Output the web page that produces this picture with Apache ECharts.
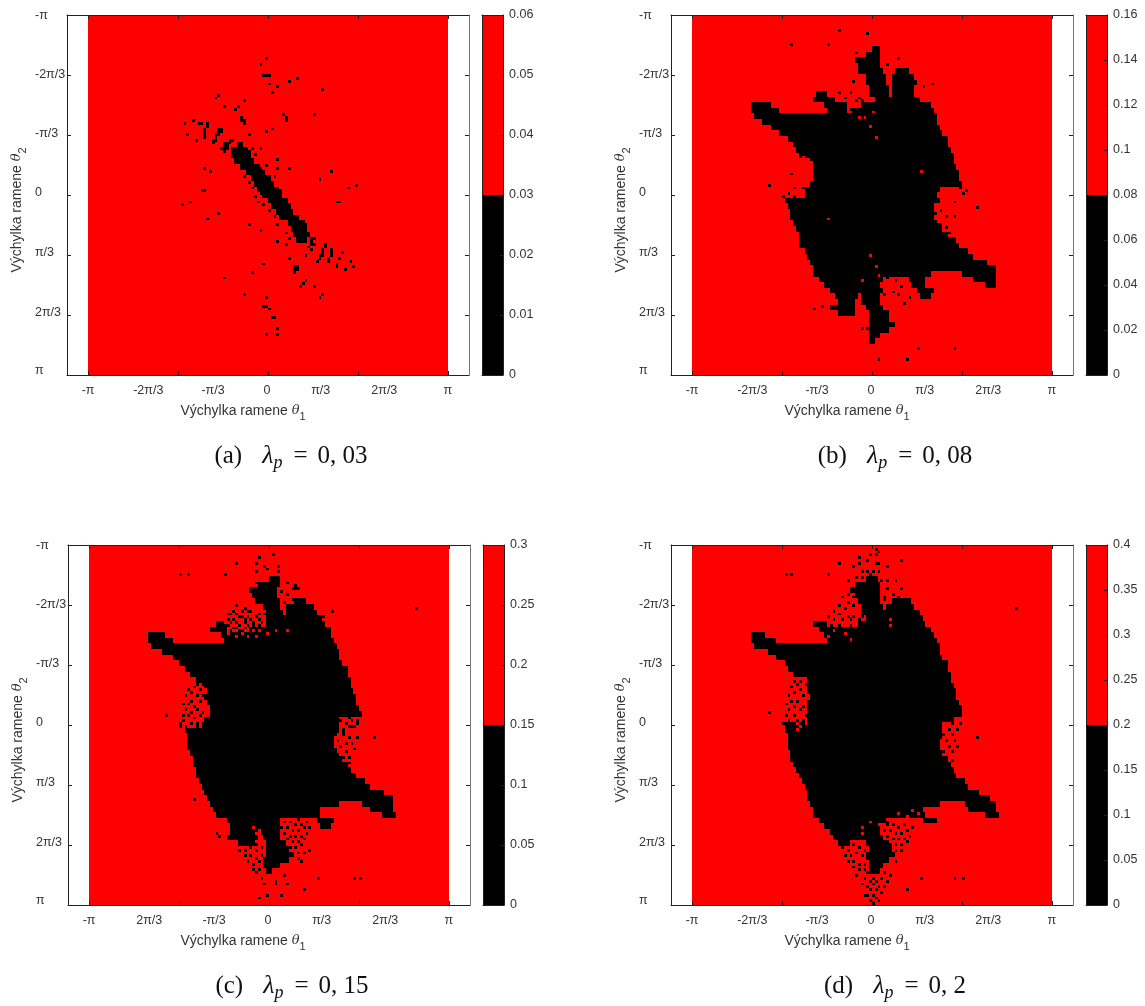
<!DOCTYPE html>
<html><head><meta charset="utf-8">
<style>html,body{margin:0;padding:0;background:#fff}#c{width:1145px;height:1006px}</style>
<script src="https://cdn.jsdelivr.net/npm/echarts@6/dist/echarts.min.js"></script>
</head><body><div id="c"></div>
<script>
// Row data: [row, from, to, from, to ...] in bins of the 128x128 scan; each entry covers two bin rows centred on row.
const blackRowsA=[[46,53,54],[48,51,56],[50,51,57],[52,52,58],[54,54,60],[56,56,62],[58,58,64],[60,59,65],[62,60,67],[64,62,68],[66,64,70],[68,65,71],[70,67,72],[72,68,74],[74,71,76],[76,72,77],[78,73,78],[80,74,77]];
const blackRowsB=[[12,64,66],[14,62,66],[16,58,66],[18,59,66],[20,59,67,72,76],[22,62,68,71,78],[24,62,68,71,79],[26,63,69,71,78],[28,44,47,63,69,71,78],[30,43,50,65,69,70,80],[32,21,27,47,54,60,84],[34,21,30,48,54,57,85],[36,22,86],[38,25,86],[40,28,87],[42,31,88],[44,34,90],[46,36,90],[48,37,91],[50,38,92],[52,42,92],[54,43,93],[56,43,94],[58,43,94],[60,42,95],[62,40,87],[64,40,86],[66,33,87],[68,34,85],[70,35,85],[72,35,85],[74,36,86],[76,37,88],[78,38,90],[80,38,93],[82,38,94],[84,40,97],[86,41,99],[88,42,104],[90,43,107],[92,43,84,96,107],[94,45,67,77,82,100,107],[96,47,66,78,82,104,107],[98,49,58,59,67,80,85],[100,51,58,60,66,81,84],[102,52,57,60,66],[104,49,57,62,67],[106,52,57,63,69],[108,63,69],[110,63,71],[112,63,69],[114,63,66],[116,63,64]];
const blackRowsC=[[12,64,67],[14,60,67],[16,57,66],[18,58,66],[20,59,67,73,76],[22,62,67,70,79],[24,63,68,70,80],[26,63,69,70,82],[28,45,47,63,69,70,83],[30,43,48,59,85],[32,21,26,47,85],[34,21,29,48,86],[36,22,87],[38,26,88],[40,30,88],[42,32,89],[44,34,91],[46,36,91],[48,38,92],[50,41,92],[52,42,93],[54,41,94],[56,42,94],[58,43,95],[60,43,96],[62,41,88],[64,40,88],[66,34,88],[68,35,86],[70,35,86],[72,35,86],[74,36,87],[76,37,89],[78,37,91],[80,38,92],[82,38,94],[84,39,97],[86,40,99],[88,41,104],[90,42,107],[92,43,88,97,107],[94,44,81,100,107],[96,45,81,104,108],[98,49,67,81,86],[100,50,59,60,67,82,85],[102,50,59,61,67],[104,49,59,62,67],[106,53,59,63,69],[108,63,70],[110,63,72],[112,62,70],[114,62,67],[116,63,64]];
const blackRowsD=[[12,62,65],[14,58,66],[16,56,66],[18,58,66],[20,59,66,71,77],[22,60,67,69,78],[24,60,68,69,80],[26,62,69,69,81],[28,43,47,59,82],[30,45,84],[32,21,25,47,85],[34,21,29,48,86],[36,22,87],[38,27,87],[40,30,88],[42,33,90],[44,34,90],[46,36,91],[48,41,91],[50,41,92],[52,41,93],[54,42,93],[56,41,94],[58,41,95],[60,41,95],[62,41,92],[64,33,88],[66,33,88],[68,34,88],[70,34,87],[72,34,87],[74,35,88],[76,35,90],[78,36,91],[80,37,92],[82,38,93],[84,39,96],[86,40,97],[88,41,101],[90,41,105],[92,42,87,97,107],[94,43,81,98,107],[96,43,82,104,108],[98,45,69,82,86],[100,47,66],[102,49,66],[104,50,67],[106,52,55,62,69],[108,63,70],[110,62,71],[112,63,69],[114,63,67],[116,63,66]];

// Isolated black bins [col,row]
const blackDotsA=[[63,15],[62,21],[63,21],[64,21],[64,24],[67,25],[65,27],[61,17],[71,23],[74,22],[83,26],[46,28],[45,29],[48,32],[53,32],[52,33],[55,30],[54,37],[55,38],[54,36],[55,37],[70,37],[69,35],[80,35],[63,41],[40,38],[39,38],[37,37],[34,38],[35,42],[38,44],[42,38],[42,39],[41,40],[41,41],[41,42],[41,43],[47,40],[46,40],[47,41],[46,41],[46,42],[45,42],[45,43],[45,44],[44,44],[44,45],[50,44],[49,45],[48,45],[50,45],[48,46],[49,46],[48,47],[49,47],[47,47],[48,48],[51,44],[57,42],[78,82],[79,79],[79,80],[79,81],[80,79],[80,81],[79,83],[77,85],[84,81],[84,82],[83,83],[83,84],[83,85],[82,85],[82,86],[81,87],[86,83],[86,84],[86,85],[85,86],[85,87],[90,84],[89,86],[88,88],[88,89],[91,90],[93,87],[94,89],[71,86],[73,89],[74,89],[73,90],[74,90],[73,91],[77,94],[76,95],[80,96],[83,99],[82,100],[75,96],[88,66],[89,66],[62,103],[63,103],[64,104],[65,107],[66,107],[63,100],[67,111],[67,113],[63,113],[55,99],[58,91],[48,93],[62,88],[40,62],[41,62],[33,67],[36,66],[42,72],[46,70],[41,54],[43,55],[95,60],[92,61],[82,58],[86,55],[71,54],[67,51],[61,47],[67,54],[57,48],[59,49],[58,47],[61,54],[62,56],[64,57],[66,61],[68,62],[70,67],[71,68],[73,71],[75,73],[77,74],[54,54],[55,57],[58,61],[59,64],[60,66],[64,69],[67,74],[70,77],[71,79],[70,81],[67,80],[61,76],[57,74],[65,40],[70,36],[56,52],[63,53],[66,57],[57,59],[61,63],[69,65],[62,67],[72,70],[66,71],[74,78]];
const blackDotsB=[[52,5],[62,6],[35,10],[48,10],[73,15],[72,19],[58,13],[69,17],[52,27],[56,27],[54,29],[56,33],[59,29],[60,30],[57,23],[82,25],[85,24],[27,60],[35,56],[34,63],[32,64],[36,61],[39,61],[97,62],[86,70],[88,69],[90,71],[88,74],[91,77],[90,75],[93,71],[101,68],[93,66],[96,63],[87,74],[46,103],[43,104],[80,118],[93,118],[76,122],[66,122],[60,111],[62,111],[69,93],[72,94],[74,96],[77,100],[71,98],[68,99],[66,99],[73,99],[75,102],[95,61],[38,65],[36,64],[58,30],[53,31]];
const blackDotsC=[[65,3],[60,4],[59,6],[62,7],[67,7],[59,9],[32,10],[35,10],[48,10],[52,6],[67,9],[63,8],[59,13],[70,13],[73,15],[74,15],[72,15],[73,14],[68,16],[70,17],[72,19],[75,19],[69,20],[83,25],[79,24],[86,23],[116,22],[52,21],[55,22],[51,23],[54,23],[57,23],[50,24],[53,25],[56,25],[59,25],[62,24],[49,26],[51,26],[55,26],[58,27],[61,27],[50,27],[53,28],[56,28],[60,28],[48,28],[52,29],[55,29],[58,29],[62,29],[47,29],[50,30],[53,30],[57,30],[49,24],[52,24],[54,25],[57,26],[60,26],[63,26],[47,27],[52,27],[55,27],[58,28],[49,28],[51,29],[54,30],[59,30],[61,30],[48,30],[51,31],[55,31],[57,29],[60,24],[56,23],[38,49],[40,49],[37,50],[35,51],[39,51],[36,52],[38,53],[34,53],[40,53],[36,55],[39,55],[33,56],[35,56],[37,57],[34,58],[38,58],[36,59],[40,59],[33,60],[35,60],[39,60],[37,61],[33,62],[36,63],[38,63],[32,64],[34,64],[27,60],[90,60],[92,61],[94,60],[89,62],[91,63],[93,62],[95,62],[92,64],[94,64],[90,65],[90,66],[93,64],[95,63],[87,67],[90,67],[92,68],[95,68],[88,69],[91,70],[86,70],[93,70],[89,71],[87,72],[91,73],[94,72],[88,74],[90,75],[92,75],[90,77],[92,77],[101,68],[32,63],[35,65],[38,64],[70,96],[72,96],[74,97],[76,96],[69,98],[71,98],[73,99],[75,99],[77,98],[68,100],[70,100],[72,101],[74,101],[76,100],[78,100],[69,102],[71,103],[73,103],[75,103],[77,102],[70,104],[72,105],[74,105],[76,104],[69,106],[71,107],[73,107],[75,106],[72,109],[74,109],[76,109],[78,108],[74,111],[75,112],[53,108],[55,108],[57,107],[59,108],[61,107],[55,110],[57,110],[59,111],[61,110],[56,112],[58,113],[60,112],[58,115],[60,115],[59,116],[62,120],[66,120],[70,120],[63,124],[60,125],[68,124],[76,122],[81,118],[94,118],[96,118],[66,119],[61,118],[69,117],[37,90],[45,102],[46,103]];
const blackDotsD=[[65,1],[65,3],[66,2],[59,4],[63,3],[59,6],[62,5],[65,6],[66,6],[57,7],[60,9],[62,9],[64,9],[66,9],[69,7],[58,11],[60,11],[63,10],[65,12],[67,12],[69,12],[72,12],[74,15],[69,15],[68,18],[71,17],[73,18],[75,20],[68,19],[55,12],[52,6],[74,5],[33,10],[35,10],[48,10],[115,22],[55,17],[57,18],[53,18],[55,20],[52,21],[54,22],[57,21],[50,23],[52,24],[55,25],[57,25],[60,25],[48,25],[50,26],[53,26],[56,26],[59,26],[62,26],[46,27],[49,28],[52,28],[56,28],[36,48],[38,48],[37,49],[40,49],[35,50],[38,51],[36,52],[34,53],[39,53],[35,55],[37,55],[33,56],[36,57],[39,57],[34,58],[38,58],[33,60],[36,60],[40,60],[34,62],[37,62],[39,62],[32,63],[35,63],[27,59],[90,62],[92,63],[95,63],[91,65],[94,65],[89,67],[92,67],[90,69],[93,69],[91,71],[94,71],[89,73],[92,73],[90,75],[92,76],[91,78],[101,68],[53,107],[55,108],[57,106],[59,107],[61,108],[54,110],[56,110],[58,109],[60,110],[62,111],[55,112],[57,112],[59,113],[61,113],[57,114],[59,115],[61,115],[58,117],[69,99],[71,99],[73,100],[75,99],[68,101],[70,101],[72,102],[74,102],[76,101],[78,100],[69,103],[71,104],[73,104],[75,104],[77,103],[70,106],[72,106],[74,106],[76,105],[68,108],[72,108],[74,108],[72,112],[62,116],[64,118],[68,116],[70,117],[61,118],[63,119],[65,119],[67,118],[69,119],[60,120],[62,121],[64,120],[66,121],[68,121],[63,122],[65,122],[67,123],[64,124],[62,124],[65,125],[63,126],[61,124],[66,126],[64,127],[81,118],[93,118],[96,118],[76,122]];

// Isolated bins that stay above threshold inside the black region [col,row]
const redDotsA=[];
const redDotsB=[[65,43],[81,55],[63,85],[48,72],[65,89],[66,92],[68,93],[64,34],[63,39],[61,36],[59,36],[55,34],[56,34],[39,50],[41,51],[42,52],[38,51],[40,53],[60,94],[70,95]];
const redDotsC=[[59,32],[56,32],[70,30],[46,33],[45,34],[46,34],[60,30],[63,31],[66,30],[49,31],[54,31],[52,32],[71,100],[59,102],[60,103],[59,105],[58,100]];
const redDotsD=[[37,63],[38,64],[37,65],[40,63],[72,100],[69,97],[63,98],[66,99],[60,100],[60,102],[50,30],[54,31],[48,32],[56,33],[70,28],[70,26],[73,95],[76,96],[78,94],[80,95]];

// Colour-bar ranges and thresholds
const cbMax=[0.06,0.16,0.3,0.4];
const cbStep=[0.01,0.02,0.05,0.05];
const cbThreshold=[0.03,0.08,0.15,0.2];

// Tick labels
const thetaTickLabels=['-π','-2π/3','-π/3','0','π/3','2π/3','π'];
const thetaTickLabelsC=['-π','2π/3','-π/3','0','π/3','2π/3','π'];
const xLabelTheta=[-3.14,-2.09,-0.96,-0.02,0.92,2.03,3.14];
const yLabelTheta=[-3.14,-2.11,-1.08,-0.04,1.01,2.06,3.07];
const captionLetters=['(a)','(b)','(c)','(d)'];
const captionValues=['0, 03','0, 08','0, 15','0, 2'];

const PI=Math.PI, BINS=128;
const binTheta=b=>-PI+2*PI*b/BINS;
const rowsToRects=rows=>{const out=[];rows.forEach(r=>{for(let i=1;i<r.length;i+=2)out.push([binTheta(r[i]),binTheta(r[i+1]+1),binTheta(r[0]-1),binTheta(r[0]+1)]);});return out;};
const dotsToRects=d=>d.map(([c,r])=>[binTheta(c),binTheta(c+1),binTheta(r),binTheta(r+1)]);

const layout=[
 {fx:67,fy:15,cx:482,capX:291,capY:456,nameX:243,yn:210},
 {fx:671,fy:15,cx:1086,capX:895,capY:456,nameX:847,yn:210},
 {fx:68,fy:545,cx:483,capX:292,capY:986,nameX:243,yn:740},
 {fx:671,fy:545,cx:1086,capX:895,capY:986,nameX:847,yn:740}
];
const panels=[
 {rows:blackRowsA,dots:blackDotsA,holes:redDotsA,labels:thetaTickLabels},
 {rows:blackRowsB,dots:blackDotsB,holes:redDotsB,labels:thetaTickLabels},
 {rows:blackRowsC,dots:blackDotsC,holes:redDotsC,labels:thetaTickLabelsC},
 {rows:blackRowsD,dots:blackDotsD,holes:redDotsD,labels:thetaTickLabels}
];

const FW=402,FH=360,SPAN=PI*FW/FH;
const FONT='"Liberation Sans",Arial,sans-serif', CAP='"Liberation Serif","DejaVu Serif",serif';
const LABEL='#333';

const renderCell=color=>(params,api)=>{
  const p0=api.coord([api.value(0),api.value(2)]), p1=api.coord([api.value(1),api.value(3)]);
  const x=Math.round(p0[0]),y=Math.round(Math.min(p0[1],p1[1]));
  return {type:'rect',shape:{x,y,width:Math.round(p1[0])-x,height:Math.round(Math.max(p0[1],p1[1]))-y},style:{fill:color},silent:true};
};

const grid=[],xAxis=[],yAxis=[],series=[],graphic=[];
const off={show:false};
panels.forEach((p,i)=>{
  const L=layout[i];
  const g=grid.length;
  grid.push({left:L.fx,top:L.fy,width:FW,height:FH,containLabel:false});
  const xi=xAxis.length, yi=yAxis.length;
  const xTicks={show:true,inside:true,length:4,lineStyle:{color:'#222'},customValues:[-PI,-PI/2,0,PI/2,PI]};
  const yTicks={show:true,inside:true,length:4,lineStyle:{color:'#222'},customValues:[-2*PI/3,-PI/3,0,PI/3,2*PI/3]};
  const xCommon={type:'value',gridIndex:g,min:-SPAN,max:SPAN,splitLine:off,z:5,axisLine:{show:true,onZero:false,lineStyle:{color:'#222',width:1}}};
  const yCommon={type:'value',gridIndex:g,min:-PI,max:PI,inverse:true,splitLine:off,z:5};
  xAxis.push({...xCommon,position:'bottom',axisTick:xTicks,
    axisLabel:{show:true,customValues:xLabelTheta,margin:9,fontFamily:FONT,fontSize:12.5,color:LABEL,hideOverlap:false,
      formatter:v=>p.labels[xLabelTheta.indexOf(v)]}});
  xAxis.push({...xCommon,position:'top',axisTick:xTicks,axisLabel:off});
  yAxis.push({...yCommon,position:'left',axisTick:yTicks,axisLine:{show:true,onZero:false,lineStyle:{color:'#222'}},
    axisLabel:{show:true,customValues:yLabelTheta,margin:32,align:'left',fontFamily:FONT,fontSize:12.5,color:LABEL,hideOverlap:false,
      formatter:v=>thetaTickLabels[yLabelTheta.indexOf(v)]}});
  yAxis.push({...yCommon,position:'right',axisTick:yTicks,axisLine:{show:true,onZero:false,lineStyle:{color:'#777'}},axisLabel:off});
  const base={type:'custom',coordinateSystem:'cartesian2d',xAxisIndex:xi,yAxisIndex:yi,animation:false,progressive:0,silent:true,clip:true,encode:{x:[0,1],y:[2,3]}};
  series.push({...base,z:1,renderItem:renderCell('#ff0000'),data:[[-PI,PI,-PI,PI]]});
  series.push({...base,z:2,renderItem:renderCell('#000000'),data:rowsToRects(p.rows).concat(dotsToRects(p.dots))});
  series.push({...base,z:3,renderItem:renderCell('#ff0000'),data:dotsToRects(p.holes)});

  // colour bar
  const cg=grid.length;
  grid.push({left:L.cx,top:L.fy,width:21,height:FH});
  const cxi=xAxis.length, cyi=yAxis.length;
  const cx={type:'category',gridIndex:cg,data:['λ'],axisTick:off,axisLabel:off,z:5,axisLine:{show:true,onZero:false,lineStyle:{color:'#222'}}};
  xAxis.push({...cx,position:'bottom'},{...cx,position:'top'});
  const cy={type:'value',gridIndex:cg,min:0,max:cbMax[i],interval:cbStep[i],splitLine:off,z:5};
  yAxis.push({...cy,position:'right',axisLine:{show:true,onZero:false,lineStyle:{color:'#222'}},axisTick:{show:true,inside:true,length:3,lineStyle:{color:'#222'}},
    axisLabel:{show:true,margin:6,fontFamily:FONT,fontSize:12.5,color:LABEL}});
  yAxis.push({...cy,position:'left',axisLine:{show:true,onZero:false,lineStyle:{color:'#222'}},axisTick:off,axisLabel:off});
  const bar={type:'bar',xAxisIndex:cxi,yAxisIndex:cyi,stack:'cb'+i,barWidth:'100%',animation:false,silent:true};
  series.push({...bar,itemStyle:{color:'#000'},data:[cbThreshold[i]]});
  series.push({...bar,itemStyle:{color:'#ff0000'},data:[cbMax[i]-cbThreshold[i]]});

  // axis names
  const nameRich={a:{fontFamily:FONT,fontSize:14,fill:'#333',lineHeight:22},
    t:{fontFamily:'"DejaVu Serif",serif',fontStyle:'italic',fontSize:13,fill:'#333',lineHeight:22},
    s:{fontFamily:FONT,fontSize:11,fill:'#333',lineHeight:22,verticalAlign:'bottom'}};
  graphic.push({type:'text',x:L.nameX,y:L.fy+396,silent:true,
    style:{text:'{a|Výchylka ramene }{t|θ}{s|1}',rich:nameRich,align:'center',verticalAlign:'middle'}});
  graphic.push({type:'text',x:L.fx-50,y:L.yn,rotation:PI/2,silent:true,
    style:{text:'{a|Výchylka ramene }{t|θ}{s|2}',rich:nameRich,align:'center',verticalAlign:'middle'}});
  // caption
  const capRich={n:{fontFamily:CAP,fontSize:25,fill:'#111',lineHeight:32},
    i:{fontFamily:CAP,fontStyle:'italic',fontSize:26,fill:'#111',lineHeight:32,padding:[0,0,0,20]},
    p:{fontFamily:CAP,fontStyle:'italic',fontSize:18,fill:'#111',lineHeight:32,verticalAlign:'bottom'},
    e:{fontFamily:CAP,fontSize:25,fill:'#111',lineHeight:32,padding:[0,10,0,11]}};
  graphic.push({type:'text',x:L.capX,y:L.capY,silent:true,
    style:{text:`{n|${captionLetters[i]}}{i|λ}{p|p}{e|=}{n|${captionValues[i]}}`,rich:capRich,align:'center',verticalAlign:'middle'}});
});

const chart=echarts.init(document.getElementById('c'),null,{renderer:'canvas'});
chart.setOption({animation:false,backgroundColor:'#fff',grid,xAxis,yAxis,series,graphic});
</script></body></html>
